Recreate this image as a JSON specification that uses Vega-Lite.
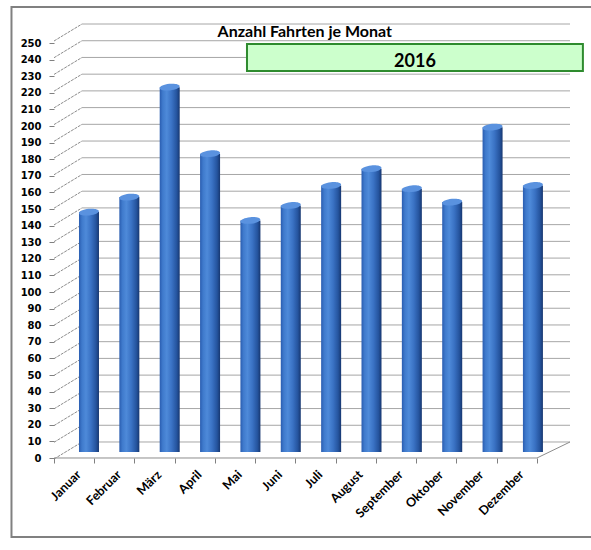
{
  "$schema": "https://vega.github.io/schema/vega-lite/v6.json",
  "width": 516,
  "height": 434,
  "autosize": {"type": "none"},
  "padding": {"left": 54, "top": 24, "right": 21, "bottom": 92},
  "background": "white",
  "config": {"view": {"stroke": null}},
  "datasets": {
    "fahrten": [
      {"Monat": "Januar", "Fahrten": 144},
      {"Monat": "Februar", "Fahrten": 153},
      {"Monat": "März", "Fahrten": 219},
      {"Monat": "April", "Fahrten": 179},
      {"Monat": "Mai", "Fahrten": 139},
      {"Monat": "Juni", "Fahrten": 148},
      {"Monat": "Juli", "Fahrten": 160},
      {"Monat": "August", "Fahrten": 170},
      {"Monat": "September", "Fahrten": 158},
      {"Monat": "Oktober", "Fahrten": 150},
      {"Monat": "November", "Fahrten": 195},
      {"Monat": "Dezember", "Fahrten": 160}
    ],
    "raster": [
      {"wert": 0}, {"wert": 10}, {"wert": 20}, {"wert": 30}, {"wert": 40},
      {"wert": 50}, {"wert": 60}, {"wert": 70}, {"wert": 80}, {"wert": 90},
      {"wert": 100}, {"wert": 110}, {"wert": 120}, {"wert": 130}, {"wert": 140},
      {"wert": 150}, {"wert": 160}, {"wert": 170}, {"wert": 180}, {"wert": 190},
      {"wert": 200}, {"wert": 210}, {"wert": 220}, {"wert": 230}, {"wert": 240},
      {"wert": 250}
    ]
  },
  "layer": [
    {
      "layer": [
        {
          "data": {"values": [{}]},
          "mark": {"type": "rect", "fill": null, "fillOpacity": 0, "stroke": "#808080", "strokeWidth": 2},
          "encoding": {
            "x": {"datum": -0.0824, "type": "quantitative", "scale": {"domain": [0, 1], "nice": false, "zero": false}, "axis": null},
            "x2": {"datum": 1.2},
            "y": {"datum": 260.2, "type": "quantitative", "scale": {"domain": [-9.57, 250], "nice": false, "zero": false}, "axis": null},
            "y2": {"datum": -56.8}
          }
        },
        {
          "data": {"name": "raster"},
          "mark": {"type": "rule", "stroke": "#a6a6a6", "strokeWidth": 1},
          "encoding": {
            "x": {"datum": 0.0543, "type": "quantitative", "scale": {"domain": [0, 1], "nice": false, "zero": false}, "axis": null},
            "x2": {"datum": 1},
            "y": {"field": "wert", "type": "quantitative", "scale": {"domain": [-9.57, 250], "nice": false, "zero": false}, "axis": null}
          }
        },
        {
          "data": {"name": "raster"},
          "mark": {"type": "rule", "stroke": "#8c8c8c", "strokeWidth": 1, "strokeDash": [3, 1], "yOffset": 17},
          "encoding": {
            "x": {"datum": 0, "type": "quantitative", "scale": {"domain": [0, 1], "nice": false, "zero": false}, "axis": null},
            "x2": {"datum": 0.0543},
            "y": {"field": "wert", "type": "quantitative", "scale": {"domain": [-9.57, 250], "nice": false, "zero": false}, "axis": null},
            "y2": {"field": "wert"}
          }
        },
        {
          "data": {"values": [{}]},
          "mark": {"type": "rule", "stroke": "#8c8c8c", "strokeWidth": 1, "yOffset": 16},
          "encoding": {
            "x": {"datum": 0, "type": "quantitative", "scale": {"domain": [0, 1], "nice": false, "zero": false}, "axis": null},
            "x2": {"datum": 0.936},
            "y": {"datum": 0, "type": "quantitative", "scale": {"domain": [-9.57, 250], "nice": false, "zero": false}, "axis": null}
          }
        },
        {
          "data": {"values": [{}]},
          "mark": {"type": "rule", "stroke": "#8c8c8c", "strokeWidth": 1, "yOffset": 16},
          "encoding": {
            "x": {"datum": 0.936, "type": "quantitative", "scale": {"domain": [0, 1], "nice": false, "zero": false}, "axis": null},
            "x2": {"datum": 1},
            "y": {"datum": 0, "type": "quantitative", "scale": {"domain": [-9.57, 250], "nice": false, "zero": false}, "axis": null},
            "y2": {"datum": 0}
          }
        },
        {
          "data": {"values": [{}]},
          "mark": {"type": "rect", "fill": "#ccffcc", "stroke": "#2e8b2e", "strokeWidth": 2},
          "encoding": {
            "x": {"datum": 0.374, "type": "quantitative", "scale": {"domain": [0, 1], "nice": false, "zero": false}, "axis": null},
            "x2": {"datum": 1.025},
            "y": {"datum": 238.0, "type": "quantitative", "scale": {"domain": [-9.57, 250], "nice": false, "zero": false}, "axis": null},
            "y2": {"datum": 221.9}
          }
        },
        {
          "data": {"values": [{}]},
          "mark": {"type": "text", "text": "2016", "font": "Lato", "fontSize": 18, "fontWeight": "bold", "color": "#000000", "align": "center", "baseline": "alphabetic"},
          "encoding": {
            "x": {"datum": 0.6996, "type": "quantitative", "scale": {"domain": [0, 1], "nice": false, "zero": false}, "axis": null},
            "y": {"datum": 224.5, "type": "quantitative", "scale": {"domain": [-9.57, 250], "nice": false, "zero": false}, "axis": null}
          }
        },
        {
          "data": {"values": [{}]},
          "mark": {"type": "text", "text": "Anzahl Fahrten je Monat", "font": "Lato", "fontSize": 16, "fontWeight": "bold", "color": "#000000", "align": "center", "baseline": "alphabetic"},
          "encoding": {
            "x": {"datum": 0.486, "type": "quantitative", "scale": {"domain": [0, 1], "nice": false, "zero": false}, "axis": null},
            "y": {"datum": 242.4, "type": "quantitative", "scale": {"domain": [-9.57, 250], "nice": false, "zero": false}, "axis": null}
          }
        }
      ]
    },
    {
      "data": {"name": "fahrten"},
      "encoding": {
        "x": {"field": "Monat", "type": "nominal", "sort": null, "scale": {"type": "band", "paddingInner": 0.5045, "paddingOuter": 0.645, "align": 0.48}, "axis": null},
        "y": {"field": "Fahrten", "type": "quantitative", "scale": {"domain": [-3.6, 256.9], "nice": false, "zero": false}, "axis": null}
      },
      "layer": [
        {
          "mark": {
            "type": "bar",
            "color": {
              "gradient": "linear",
              "x1": 0, "x2": 1, "y1": 0, "y2": 0,
              "stops": [
                {"offset": 0, "color": "#2a5db0"},
                {"offset": 0.15, "color": "#3f7acc"},
                {"offset": 0.35, "color": "#4e8ad9"},
                {"offset": 0.6, "color": "#3a72c4"},
                {"offset": 0.85, "color": "#25549e"},
                {"offset": 1, "color": "#173770"}
              ]
            }
          }
        },
        {
          "mark": {
            "type": "point",
            "shape": "M -1 0 A 1 0.33 0 1 1 1 0 A 1 0.33 0 1 1 -1 0 Z",
            "size": 400,
            "filled": true,
            "fill": "#5a92df",
            "opacity": 1,
            "strokeWidth": 0,
            "angle": -6
          }
        }
      ]
    },
    {
      "data": {"name": "fahrten"},
      "mark": {"type": "point", "opacity": 0},
      "encoding": {
        "x": {
          "field": "Monat", "type": "nominal", "sort": null,
          "scale": {"type": "band", "paddingInner": 0, "paddingOuter": 0.41, "align": 0},
          "axis": {
            "orient": "bottom", "title": null, "labelAngle": -45, "zindex": 2,
            "labelFont": "Lato", "labelFontSize": 12.5, "labelFontWeight": "bold", "labelColor": "#000000",
            "tickBand": "extent", "tickSize": 5, "tickColor": "#808080",
            "domain": false, "grid": false, "labelPadding": 5, "labelOverlap": false
          }
        },
        "y": {
          "field": "Fahrten", "type": "quantitative",
          "scale": {"domain": [0, 261.45], "nice": false, "zero": false},
          "axis": {
            "orient": "left", "title": null, "zindex": 2,
            "values": [0, 10, 20, 30, 40, 50, 60, 70, 80, 90, 100, 110, 120, 130, 140, 150, 160, 170, 180, 190, 200, 210, 220, 230, 240, 250],
            "labelFont": "DejaVu Sans", "labelFontSize": 10, "labelFontWeight": "bold", "labelColor": "#000000",
            "tickSize": 5, "tickColor": "#808080", "domain": false, "grid": false,
            "labelPadding": 8, "labelOverlap": false
          }
        }
      }
    }
  ],
  "resolve": {"scale": {"x": "independent", "y": "independent"}}
}
